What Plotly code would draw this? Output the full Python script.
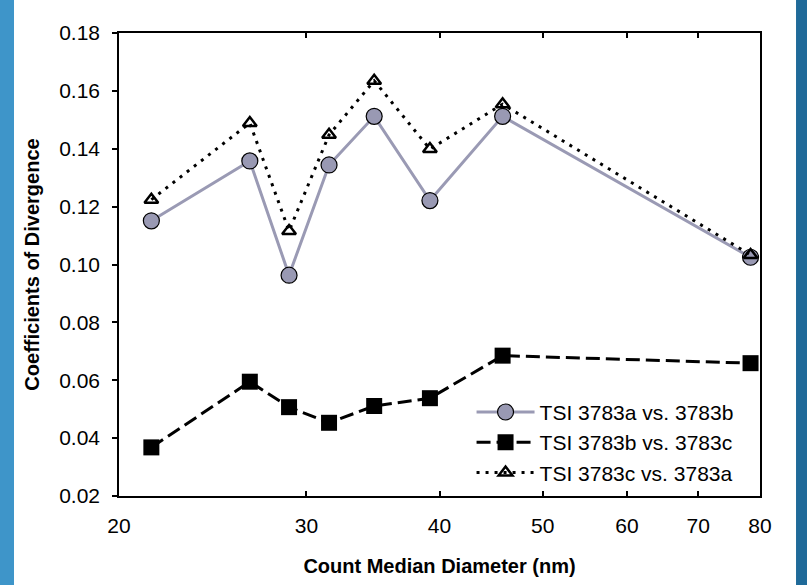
import plotly.graph_objects as go
import math

# Data
diameter = [21.45, 26.54, 28.89, 31.50, 34.73, 39.18, 45.85, 78.38]
cod_ab = [0.1151, 0.1358, 0.0963, 0.1344, 0.1512, 0.1221, 0.1512, 0.1025]
cod_bc = [0.0368, 0.0595, 0.0507, 0.0453, 0.0511, 0.0538, 0.0685, 0.0659]
cod_ca = [0.1224, 0.1489, 0.1116, 0.1448, 0.1635, 0.1399, 0.1554, 0.1033]
x_ticks = [20, 30, 40, 50, 60, 70, 80]
y_ticks = [0.02, 0.04, 0.06, 0.08, 0.10, 0.12, 0.14, 0.16, 0.18]
names = ["TSI 3783a vs. 3783b", "TSI 3783b vs. 3783c", "TSI 3783c vs. 3783a"]

FONT = "Liberation Sans, Arial, sans-serif"

fig = go.Figure()
fig.add_trace(go.Scatter(
    x=diameter, y=cod_ab, name=names[0], mode="lines+markers",
    line=dict(color="#9a9ab4", width=3),
    marker=dict(symbol="circle", size=16, color="#9999b3",
                line=dict(color="black", width=1.2)),
))
fig.add_trace(go.Scatter(
    x=diameter, y=cod_bc, name=names[1], mode="lines+markers",
    line=dict(color="black", width=3, dash="14px,6px"),
    marker=dict(symbol="square", size=16, color="black",
                line=dict(color="black", width=0)),
))
fig.add_trace(go.Scatter(
    x=diameter, y=cod_ca, name=names[2], mode="lines+markers",
    line=dict(color="black", width=3, dash="3px,6px"),
    marker=dict(symbol="triangle-up-open", size=12, color="black",
                line=dict(color="black", width=2.5)),
))

# Blue side strips of the slide background
fig.add_shape(type="rect", xref="paper", yref="paper", x0=-0.2, x1=-0.1638,
              y0=-0.3, y1=1.2, fillcolor="#3e95c9", line=dict(width=0), layer="below")
fig.add_shape(type="rect", xref="paper", yref="paper", x0=1.0562, x1=1.1,
              y0=-0.3, y1=1.2, fillcolor="#1f6a99", line=dict(width=0), layer="below")

fig.update_layout(
    width=807, height=585,
    margin=dict(l=119, r=47, t=33, b=89),
    paper_bgcolor="white", plot_bgcolor="white",
    font=dict(family=FONT, size=21, color="black"),
    showlegend=True,
    legend=dict(x=0.55, y=0.225, xanchor="left", yanchor="top",
                bgcolor="rgba(255,255,255,0)", borderwidth=0,
                font=dict(family=FONT, size=21, color="black"),
                tracegroupgap=0, itemwidth=58),
)
fig.update_xaxes(
    type="log", range=[math.log10(20), math.log10(80)],
    tickvals=x_ticks, ticktext=[str(v) for v in x_ticks],
    ticks="inside", ticklen=5, tickwidth=1.5, tickcolor="black",
    showline=True, linecolor="black", linewidth=1.5, mirror="ticks",
    showgrid=False, zeroline=False, ticklabelstandoff=10,
    tickfont=dict(family=FONT, size=21),
    title=dict(text="<b>Count Median Diameter (nm)</b>",
               font=dict(family=FONT, size=20), standoff=23),
)
fig.update_yaxes(
    range=[0.02, 0.18], tickvals=y_ticks, tickformat=".2f",
    ticks="outside", ticklen=5, tickwidth=1.5, tickcolor="black",
    showline=True, linecolor="black", linewidth=1.5, mirror=True,
    showgrid=False, zeroline=False, ticklabelstandoff=8,
    tickfont=dict(family=FONT, size=21),
    title=dict(text="<b>Coefficients of Divergence</b>",
               font=dict(family=FONT, size=20), standoff=14),
)

fig.write_html("out.html", config={"displayModeBar": False},
               post_script="document.body.style.margin='0';")
